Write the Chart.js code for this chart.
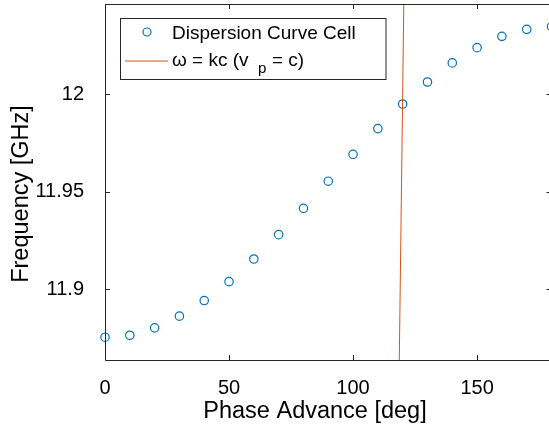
<!DOCTYPE html>
<html><head><meta charset="utf-8">
<script src="https://cdn.jsdelivr.net/npm/chart.js@4/dist/chart.umd.min.js"></script>
<style>
html,body{margin:0;padding:0;overflow:hidden;background:#fff;width:549px;height:431px}
#wrap{position:relative;width:553px;height:431px}
</style>
</head><body><div id="wrap"><canvas id="c" width="553" height="431"></canvas></div>
<script>
const phaseAdvance = [0,10,20,30,40,50,60,70,80,90,100,110,120,130,140,150,160,170,180];
const frequency = [11.8754,11.8764,11.8802,11.8862,11.8942,11.9039,11.9155,11.9280,11.9415,11.9554,11.9692,11.9824,11.9950,12.0063,12.0161,12.0239,12.0297,12.0333,12.0347];
const lightLinePhase = [118.6, 120.5];
const lightLineFreq = [11.86, 12.05];
const xTicks = [0,50,100,150];
const yTicks = [11.9,11.95,12];
const xLimits = [0,180];
const yLimits = [11.8637,12.0463];
const xTitle = 'Phase Advance [deg]';
const yTitle = 'Frequency [GHz]';
const legendLabels = ['Dispersion Curve Cell','ω = kc (v','p','= c)'];

const FONT = '"Liberation Sans", Arial, Helvetica, sans-serif';
const AX = '#262626';
const BLUE = '#0072BD';
const ORANGE = '#D95319';

const cellData = phaseAdvance.map((x,i)=>({x:x,y:frequency[i]}));
const lineData = lightLinePhase.map((x,i)=>({x:x,y:lightLineFreq[i]}));

const framePlugin = {
  id:'frame',
  afterDraw(chart){
    const ctx = chart.ctx, a = chart.chartArea;
    const xs = chart.scales.x, ys = chart.scales.y;
    ctx.save();
    ctx.strokeStyle = AX; ctx.lineWidth = 1;
    ctx.beginPath();
    ctx.rect(a.left+0.5, a.top+0.5, a.right-a.left, a.bottom-a.top);
    ctx.stroke();
    const tl = 5;
    ctx.beginPath();
    xTicks.forEach(v=>{
      const px = Math.round(xs.getPixelForValue(v))+0.5;
      ctx.moveTo(px,a.bottom); ctx.lineTo(px,a.bottom-tl);
      ctx.moveTo(px,a.top); ctx.lineTo(px,a.top+tl);
    });
    yTicks.forEach(v=>{
      const py = Math.round(ys.getPixelForValue(v))+0.5;
      ctx.moveTo(a.left,py); ctx.lineTo(a.left+tl,py);
      ctx.moveTo(a.right,py); ctx.lineTo(a.right-tl,py);
    });
    ctx.stroke();

    // axis titles
    ctx.fillStyle = '#000';
    ctx.font = '23.5px '+FONT;
    ctx.textAlign = 'center'; ctx.textBaseline = 'alphabetic';
    ctx.fillText(xTitle, 315, 418);
    ctx.save();
    ctx.translate(28, 194);
    ctx.rotate(-Math.PI/2);
    ctx.fillText(yTitle, 0, 0);
    ctx.restore();

    // legend
    const L=120.5, T=18.5, R=386, B=79.5;
    ctx.fillStyle='#fff';
    ctx.fillRect(L,T,R-L,B-T);
    ctx.strokeStyle=AX; ctx.lineWidth=1;
    ctx.strokeRect(L,T,R-L,B-T);
    ctx.strokeStyle=BLUE; ctx.lineWidth=1.2;
    ctx.beginPath(); ctx.arc(147,32,4,0,Math.PI*2); ctx.stroke();
    ctx.fillStyle='#000';
    ctx.textAlign='left'; ctx.textBaseline='alphabetic';
    ctx.font='19px '+FONT;
    ctx.fillText(legendLabels[0],172,38.5);
    ctx.strokeStyle=ORANGE; ctx.lineWidth=1;
    ctx.beginPath(); ctx.moveTo(125,61); ctx.lineTo(168,61); ctx.stroke();
    ctx.font='19px '+FONT;
    ctx.fillText(legendLabels[1],172,66);
    ctx.font='15px '+FONT;
    ctx.fillText(legendLabels[2],258,73);
    ctx.font='19px '+FONT;
    ctx.fillText(legendLabels[3],272,66);
    ctx.restore();
  }
};

new Chart(document.getElementById('c'),{
  type:'scatter',
  data:{datasets:[
    {label:'ω = kc', data:lineData, showLine:true, borderColor:ORANGE, backgroundColor:ORANGE, borderWidth:1, pointRadius:0, order:0},
    {label:'Dispersion Curve Cell', data:cellData, showLine:false, pointStyle:'circle', pointRadius:4.2, borderWidth:1.2, borderColor:BLUE, backgroundColor:'rgba(0,0,0,0)', clip:false, order:1}
  ]},
  options:{
    responsive:false, animation:false, devicePixelRatio:1,
    layout:{autoPadding:false, padding:{left:0,right:1.5,top:4,bottom:0}},
    plugins:{legend:{display:false}, tooltip:{enabled:false}},
    scales:{
      x:{type:'linear', min:xLimits[0], max:xLimits[1],
        afterBuildTicks:s=>{s.ticks = xTicks.map(v=>({value:v}));},
        afterFit:s=>{s.height=71; s.paddingLeft=0; s.paddingRight=0;},
        grid:{display:false}, border:{display:false},
        ticks:{font:{family:FONT,size:20}, color:'#000', padding:8, maxRotation:0, callback:v=>String(v)}
      },
      y:{type:'linear', min:yLimits[0], max:yLimits[1],
        afterBuildTicks:s=>{s.ticks = yTicks.map(v=>({value:v}));},
        afterFit:s=>{s.width=105; s.paddingTop=0; s.paddingBottom=0;},
        grid:{display:false}, border:{display:false},
        ticks:{font:{family:FONT,size:20}, color:'#000', padding:13, callback:v=>String(v)}
      }
    }
  },
  plugins:[framePlugin]
});
</script>
</body></html>
